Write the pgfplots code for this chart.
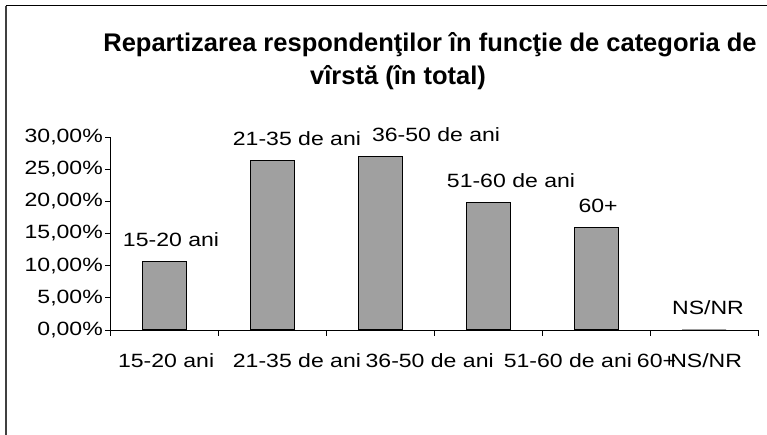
\documentclass[border=0pt]{standalone}
\usepackage{pgfplots}
\pgfplotsset{compat=1.18}
\usepackage{fontspec}
\setmainfont{Liberation Sans}[FakeStretch=1.2]
\newfontfamily\titlefont{Liberation Sans}
\definecolor{barfill}{RGB}{160,160,160}
\begin{document}
\begin{tikzpicture}
\useasboundingbox (0,0) rectangle (767pt,435pt);
\fill[white] (0,0) rectangle (767pt,435pt);
\draw[line width=1.5pt, black!75] (6pt,0) -- (6pt,429pt);
\draw[line width=1pt, black] (5.5pt,429pt) -- (767pt,429pt);
\node[anchor=base, inner sep=0pt] at (430pt,383pt) {\titlefont\fontsize{25.5pt}{30pt}\selectfont\bfseries Repartizarea respondenţilor în funcţie de categoria de};
\node[anchor=base, inner sep=0pt] at (398pt,350pt) {\titlefont\fontsize{25.5pt}{30pt}\selectfont\bfseries vîrstă (în total)};
\begin{axis}[
  at={(110pt,105pt)}, anchor=south west,
  scale only axis, width=648pt, height=193pt,
  xmin=-0.5, xmax=5.5, ymin=0, ymax=30,
  axis lines*=left,
  axis line style={black, line width=0.8pt},
  tick align=outside,
  xtick={0.02,1.231,2.46,3.74,4.56,5.02},
  xticklabels={15-20 ani,21-35 de ani,36-50 de ani,51-60 de ani,60+,NS/NR},
  major x tick style={draw=none},
  minor xtick={-0.5,0.5,1.5,2.5,3.5,4.5,5.5},
  minor x tick style={black, line width=0.8pt},
  minor tick length=6pt,
  ytick={0,5,10,15,20,25,30},
  yticklabels={{0,00\%},{5,00\%},{10,00\%},{15,00\%},{20,00\%},{25,00\%},{30,00\%}},
  major y tick style={black, line width=0.8pt},
  major tick length=5pt,
  tick label style={font=\fontsize{19.2pt}{22pt}\selectfont},
  yticklabel style={anchor=east, inner sep=0pt, xshift=-2pt},
  xticklabel style={anchor=base, inner sep=0pt, yshift=-33pt},
  ybar, bar width=44pt,
  clip=false,
]
% bars
\addplot[fill=barfill, draw=black, line width=1pt, bar shift=0pt] coordinates {
  (0,10.7) (1,26.4) (2,26.95) (3,19.75) (4,16.0) (5,0.0)
};
% category labels above the bars (invisible carrier bars at the label positions)
\addplot[draw=none, fill=none, bar shift=0pt,
  nodes near coords, point meta=explicit symbolic,
  every node near coord/.append style={anchor=base, inner sep=0pt, yshift=15pt,
    font=\fontsize{19.2pt}{22pt}\selectfont, text=black}] coordinates {
  (0.065,10.7) [15-20 ani]
  (1.231,26.4) [21-35 de ani]
  (2.519,26.95) [36-50 de ani]
  (3.213,19.75) [51-60 de ani]
  (4.019,16.0) [60+]
  (5.037,0.0) [NS/NR]
};
\end{axis}
\end{tikzpicture}
\end{document}
